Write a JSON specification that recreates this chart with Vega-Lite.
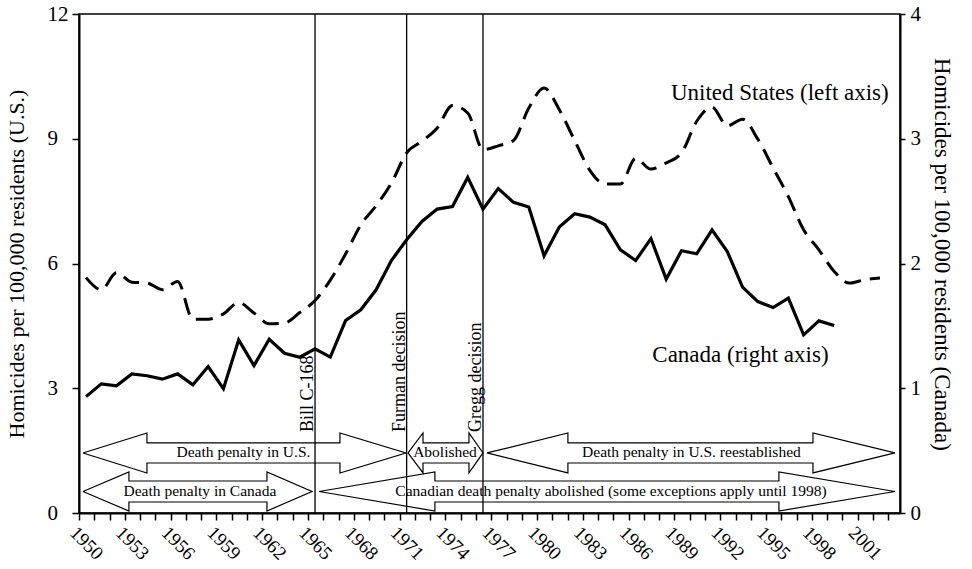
{
  "$schema": "https://vega.github.io/schema/vega-lite/v6.json",
  "width": 821,
  "height": 499,
  "autosize": "none",
  "padding": {"left": 79, "top": 14, "right": 72, "bottom": 56},
  "background": "white",
  "config": {
    "view": {"stroke": "black", "strokeWidth": 1.5},
    "font": "Liberation Serif",
    "axis": {"domainColor": "black", "tickColor": "black", "labelColor": "black", "titleColor": "black", "grid": false, "domainWidth": 2, "tickWidth": 1.5, "labelFont": "Liberation Serif", "titleFont": "Liberation Serif", "titleFontWeight": "normal"}
  },
  "datasets": {
    "series": [
      {"year": 1950, "us": 5.66, "canada": 0.933},
      {"year": 1951, "us": 5.37, "canada": 1.035},
      {"year": 1952, "us": 5.78, "canada": 1.019},
      {"year": 1953, "us": 5.55, "canada": 1.115},
      {"year": 1954, "us": 5.53, "canada": 1.10},
      {"year": 1955, "us": 5.37, "canada": 1.073},
      {"year": 1956, "us": 5.57, "canada": 1.115},
      {"year": 1957, "us": 4.66, "canada": 1.027},
      {"year": 1958, "us": 4.66, "canada": 1.174},
      {"year": 1959, "us": 4.79, "canada": 0.997},
      {"year": 1960, "us": 5.06, "canada": 1.388},
      {"year": 1961, "us": 4.81, "canada": 1.182},
      {"year": 1962, "us": 4.55, "canada": 1.393},
      {"year": 1963, "us": 4.57, "canada": 1.281},
      {"year": 1964, "us": 4.82, "canada": 1.249},
      {"year": 1965, "us": 5.11, "canada": 1.316},
      {"year": 1966, "us": 5.6, "canada": 1.25},
      {"year": 1967, "us": 6.23, "canada": 1.543},
      {"year": 1968, "us": 6.93, "canada": 1.629},
      {"year": 1969, "us": 7.39, "canada": 1.789},
      {"year": 1970, "us": 7.93, "canada": 2.024},
      {"year": 1971, "us": 8.66, "canada": 2.19},
      {"year": 1972, "us": 8.94, "canada": 2.337},
      {"year": 1973, "us": 9.26, "canada": 2.436},
      {"year": 1974, "us": 9.80, "canada": 2.457},
      {"year": 1975, "us": 9.62, "canada": 2.69},
      {"year": 1976, "us": 8.74, "canada": 2.436},
      {"year": 1977, "us": 8.83, "canada": 2.60},
      {"year": 1978, "us": 8.96, "canada": 2.49},
      {"year": 1979, "us": 9.74, "canada": 2.453},
      {"year": 1980, "us": 10.22, "canada": 2.062},
      {"year": 1981, "us": 9.70, "canada": 2.292},
      {"year": 1982, "us": 8.96, "canada": 2.399},
      {"year": 1983, "us": 8.24, "canada": 2.372},
      {"year": 1984, "us": 7.91, "canada": 2.31},
      {"year": 1985, "us": 7.91, "canada": 2.11},
      {"year": 1986, "us": 8.53, "canada": 2.024},
      {"year": 1987, "us": 8.27, "canada": 2.20},
      {"year": 1988, "us": 8.42, "canada": 1.875},
      {"year": 1989, "us": 8.66, "canada": 2.102},
      {"year": 1990, "us": 9.42, "canada": 2.078},
      {"year": 1991, "us": 9.76, "canada": 2.27},
      {"year": 1992, "us": 9.31, "canada": 2.096},
      {"year": 1993, "us": 9.47, "canada": 1.811},
      {"year": 1994, "us": 8.99, "canada": 1.695},
      {"year": 1995, "us": 8.30, "canada": 1.647},
      {"year": 1996, "us": 7.61, "canada": 1.722},
      {"year": 1997, "us": 6.81, "canada": 1.428},
      {"year": 1998, "us": 6.33, "canada": 1.54},
      {"year": 1999, "us": 5.81, "canada": 1.503},
      {"year": 2000, "us": 5.53, "canada": null},
      {"year": 2001, "us": 5.61, "canada": null},
      {"year": 2002, "us": 5.65, "canada": null}
    ],
    "events": [
      {"year": 1965, "label": "Bill C-168", "ty": 1.95},
      {"year": 1971, "label": "Furman decision", "ty": 1.95},
      {"year": 1976, "label": "Gregg decision", "ty": 1.95}
    ],
    "arrows": [
      {"a": "A", "i": 0, "ax": 1950.26, "ay": 1.444},
      {"a": "A", "i": 1, "ax": 1954.45, "ay": 1.925},
      {"a": "A", "i": 2, "ax": 1954.45, "ay": 1.685},
      {"a": "A", "i": 3, "ax": 1967.09, "ay": 1.685},
      {"a": "A", "i": 4, "ax": 1967.09, "ay": 1.925},
      {"a": "A", "i": 5, "ax": 1971.41, "ay": 1.444},
      {"a": "A", "i": 6, "ax": 1967.09, "ay": 0.963},
      {"a": "A", "i": 7, "ax": 1967.09, "ay": 1.203},
      {"a": "A", "i": 8, "ax": 1954.45, "ay": 1.203},
      {"a": "A", "i": 9, "ax": 1954.45, "ay": 0.963},
      {"a": "A", "i": 10, "ax": 1950.26, "ay": 1.444},
      {"a": "B", "i": 0, "ax": 1971.55, "ay": 1.444},
      {"a": "B", "i": 1, "ax": 1972.53, "ay": 1.925},
      {"a": "B", "i": 2, "ax": 1972.53, "ay": 1.685},
      {"a": "B", "i": 3, "ax": 1975.54, "ay": 1.685},
      {"a": "B", "i": 4, "ax": 1975.54, "ay": 1.925},
      {"a": "B", "i": 5, "ax": 1976.46, "ay": 1.444},
      {"a": "B", "i": 6, "ax": 1975.54, "ay": 0.963},
      {"a": "B", "i": 7, "ax": 1975.54, "ay": 1.203},
      {"a": "B", "i": 8, "ax": 1972.53, "ay": 1.203},
      {"a": "B", "i": 9, "ax": 1972.53, "ay": 0.963},
      {"a": "B", "i": 10, "ax": 1971.55, "ay": 1.444},
      {"a": "C", "i": 0, "ax": 1976.72, "ay": 1.444},
      {"a": "C", "i": 1, "ax": 1982.02, "ay": 1.925},
      {"a": "C", "i": 2, "ax": 1982.02, "ay": 1.685},
      {"a": "C", "i": 3, "ax": 1998.07, "ay": 1.685},
      {"a": "C", "i": 4, "ax": 1998.07, "ay": 1.925},
      {"a": "C", "i": 5, "ax": 2003.44, "ay": 1.444},
      {"a": "C", "i": 6, "ax": 1998.07, "ay": 0.963},
      {"a": "C", "i": 7, "ax": 1998.07, "ay": 1.203},
      {"a": "C", "i": 8, "ax": 1982.02, "ay": 1.203},
      {"a": "C", "i": 9, "ax": 1982.02, "ay": 0.963},
      {"a": "C", "i": 10, "ax": 1976.72, "ay": 1.444},
      {"a": "D", "i": 0, "ax": 1950.26, "ay": 0.517},
      {"a": "D", "i": 1, "ax": 1953.27, "ay": 0.987},
      {"a": "D", "i": 2, "ax": 1953.27, "ay": 0.770},
      {"a": "D", "i": 3, "ax": 1962.31, "ay": 0.770},
      {"a": "D", "i": 4, "ax": 1962.31, "ay": 0.987},
      {"a": "D", "i": 5, "ax": 1965.26, "ay": 0.517},
      {"a": "D", "i": 6, "ax": 1962.31, "ay": 0.048},
      {"a": "D", "i": 7, "ax": 1962.31, "ay": 0.265},
      {"a": "D", "i": 8, "ax": 1953.27, "ay": 0.265},
      {"a": "D", "i": 9, "ax": 1953.27, "ay": 0.048},
      {"a": "D", "i": 10, "ax": 1950.26, "ay": 0.517},
      {"a": "E", "i": 0, "ax": 1965.72, "ay": 0.517},
      {"a": "E", "i": 1, "ax": 1973.31, "ay": 0.987},
      {"a": "E", "i": 2, "ax": 1973.31, "ay": 0.770},
      {"a": "E", "i": 3, "ax": 1995.84, "ay": 0.770},
      {"a": "E", "i": 4, "ax": 1995.84, "ay": 0.987},
      {"a": "E", "i": 5, "ax": 2003.44, "ay": 0.517},
      {"a": "E", "i": 6, "ax": 1995.84, "ay": 0.048},
      {"a": "E", "i": 7, "ax": 1995.84, "ay": 0.265},
      {"a": "E", "i": 8, "ax": 1973.31, "ay": 0.265},
      {"a": "E", "i": 9, "ax": 1973.31, "ay": 0.048},
      {"a": "E", "i": 10, "ax": 1965.72, "ay": 0.517}
    ],
    "arrowText": [
      {"label": "Death penalty in U.S.", "tx": 1960.77, "ty": 1.468},
      {"label": "Abolished", "tx": 1973.97, "ty": 1.468},
      {"label": "Death penalty in U.S. reestablished", "tx": 1990.11, "ty": 1.468},
      {"label": "Death penalty in Canada", "tx": 1957.92, "ty": 0.53},
      {"label": "Canadian death penalty abolished (some exceptions apply until 1998)", "tx": 1984.84, "ty": 0.53}
    ],
    "seriesText": [
      {"label": "United States (left axis)", "tx": 1995.9, "ty": 9.94},
      {"label": "Canada (right axis)", "tx": 1993.32, "ty": 3.64}
    ]
  },
  "layer": [
    {
      "data": {"name": "series"},
      "mark": {"type": "line", "strokeDash": [17, 9], "strokeWidth": 3, "color": "black", "interpolate": "monotone", "xOffset": 7},
      "encoding": {
        "x": {"field": "year", "type": "quantitative", "scale": {"domain": [1950, 2003.77], "nice": false, "zero": false},
          "axis": {"values": [1950,1951,1952,1953,1954,1955,1956,1957,1958,1959,1960,1961,1962,1963,1964,1965,1966,1967,1968,1969,1970,1971,1972,1973,1974,1975,1976,1977,1978,1979,1980,1981,1982,1983,1984,1985,1986,1987,1988,1989,1990,1991,1992,1993,1994,1995,1996,1997,1998,1999,2000,2001,2002,2003], "format": "d", "labelExpr": "datum.value % 3 === 0 ? datum.label : ''", "labelAngle": 45, "labelAlign": "left", "labelBaseline": "top", "labelFontSize": 19, "labelPadding": 3, "tickSize": 7, "labelOverlap": false, "labelFlush": false, "title": null}},
        "y": {"field": "us", "type": "quantitative", "scale": {"domain": [0, 12], "nice": false, "zero": true},
          "axis": {"orient": "left", "values": [0, 3, 6, 9, 12], "labelAlign": "left", "labelPadding": 25, "tickSize": 7, "labelFontSize": 21, "title": "Homicides per 100,000 residents (U.S.)", "titleFontSize": 22, "titlePadding": 19}}
      }
    },
    {
      "data": {"name": "series"},
      "mark": {"type": "line", "strokeWidth": 3.2, "color": "black", "xOffset": 7},
      "encoding": {
        "x": {"field": "year", "type": "quantitative", "scale": {"domain": [1950, 2003.77], "nice": false, "zero": false},
          "axis": {"values": [1950,1951,1952,1953,1954,1955,1956,1957,1958,1959,1960,1961,1962,1963,1964,1965,1966,1967,1968,1969,1970,1971,1972,1973,1974,1975,1976,1977,1978,1979,1980,1981,1982,1983,1984,1985,1986,1987,1988,1989,1990,1991,1992,1993,1994,1995,1996,1997,1998,1999,2000,2001,2002,2003], "format": "d", "labelExpr": "datum.value % 3 === 0 ? datum.label : ''", "labelAngle": 45, "labelAlign": "left", "labelBaseline": "top", "labelFontSize": 19, "labelPadding": 3, "tickSize": 7, "labelOverlap": false, "labelFlush": false, "title": null}},
        "y": {"field": "canada", "type": "quantitative", "scale": {"domain": [0, 4], "nice": false, "zero": true},
          "axis": {"orient": "right", "values": [0, 1, 2, 3, 4], "tickSize": 5, "labelPadding": 5, "labelFontSize": 21, "title": "Homicides per 100,000 residents (Canada)", "titleFontSize": 23, "titlePadding": 9, "titleY": 240}}
      }
    },
    {
      "data": {"name": "events"},
      "mark": {"type": "rule", "strokeWidth": 1.3, "color": "black", "xOffset": 7},
      "encoding": {
        "x": {"field": "year", "type": "quantitative", "scale": {"domain": [1950, 2003.77], "nice": false, "zero": false},
          "axis": {"values": [1950,1951,1952,1953,1954,1955,1956,1957,1958,1959,1960,1961,1962,1963,1964,1965,1966,1967,1968,1969,1970,1971,1972,1973,1974,1975,1976,1977,1978,1979,1980,1981,1982,1983,1984,1985,1986,1987,1988,1989,1990,1991,1992,1993,1994,1995,1996,1997,1998,1999,2000,2001,2002,2003], "format": "d", "labelExpr": "datum.value % 3 === 0 ? datum.label : ''", "labelAngle": 45, "labelAlign": "left", "labelBaseline": "top", "labelFontSize": 19, "labelPadding": 3, "tickSize": 7, "labelOverlap": false, "labelFlush": false, "title": null}}
      }
    },
    {
      "data": {"name": "events"},
      "mark": {"type": "text", "angle": 270, "align": "left", "baseline": "alphabetic", "dy": -2, "fontSize": 18, "color": "black", "xOffset": 7},
      "encoding": {
        "x": {"field": "year", "type": "quantitative", "scale": {"domain": [1950, 2003.77], "nice": false, "zero": false},
          "axis": {"values": [1950,1951,1952,1953,1954,1955,1956,1957,1958,1959,1960,1961,1962,1963,1964,1965,1966,1967,1968,1969,1970,1971,1972,1973,1974,1975,1976,1977,1978,1979,1980,1981,1982,1983,1984,1985,1986,1987,1988,1989,1990,1991,1992,1993,1994,1995,1996,1997,1998,1999,2000,2001,2002,2003], "format": "d", "labelExpr": "datum.value % 3 === 0 ? datum.label : ''", "labelAngle": 45, "labelAlign": "left", "labelBaseline": "top", "labelFontSize": 19, "labelPadding": 3, "tickSize": 7, "labelOverlap": false, "labelFlush": false, "title": null}},
        "y": {"field": "ty", "type": "quantitative", "scale": {"domain": [0, 12], "nice": false}, "axis": null},
        "text": {"field": "label"}
      }
    },
    {
      "data": {"name": "arrows"},
      "mark": {"type": "line", "strokeWidth": 1.2, "color": "black", "interpolate": "linear"},
      "encoding": {
        "x": {"field": "ax", "type": "quantitative", "scale": {"domain": [1950, 2003.77], "nice": false, "zero": false},
          "axis": {"values": [1950,1951,1952,1953,1954,1955,1956,1957,1958,1959,1960,1961,1962,1963,1964,1965,1966,1967,1968,1969,1970,1971,1972,1973,1974,1975,1976,1977,1978,1979,1980,1981,1982,1983,1984,1985,1986,1987,1988,1989,1990,1991,1992,1993,1994,1995,1996,1997,1998,1999,2000,2001,2002,2003], "format": "d", "labelExpr": "datum.value % 3 === 0 ? datum.label : ''", "labelAngle": 45, "labelAlign": "left", "labelBaseline": "top", "labelFontSize": 19, "labelPadding": 3, "tickSize": 7, "labelOverlap": false, "labelFlush": false, "title": null}},
        "y": {"field": "ay", "type": "quantitative", "scale": {"domain": [0, 12], "nice": false}, "axis": null},
        "detail": {"field": "a"},
        "order": {"field": "i", "type": "quantitative"}
      }
    },
    {
      "data": {"name": "arrowText"},
      "mark": {"type": "text", "align": "center", "baseline": "middle", "fontSize": 15.5, "color": "black"},
      "encoding": {
        "x": {"field": "tx", "type": "quantitative", "scale": {"domain": [1950, 2003.77], "nice": false, "zero": false},
          "axis": {"values": [1950,1951,1952,1953,1954,1955,1956,1957,1958,1959,1960,1961,1962,1963,1964,1965,1966,1967,1968,1969,1970,1971,1972,1973,1974,1975,1976,1977,1978,1979,1980,1981,1982,1983,1984,1985,1986,1987,1988,1989,1990,1991,1992,1993,1994,1995,1996,1997,1998,1999,2000,2001,2002,2003], "format": "d", "labelExpr": "datum.value % 3 === 0 ? datum.label : ''", "labelAngle": 45, "labelAlign": "left", "labelBaseline": "top", "labelFontSize": 19, "labelPadding": 3, "tickSize": 7, "labelOverlap": false, "labelFlush": false, "title": null}},
        "y": {"field": "ty", "type": "quantitative", "scale": {"domain": [0, 12], "nice": false}, "axis": null},
        "text": {"field": "label"}
      }
    },
    {
      "data": {"name": "seriesText"},
      "mark": {"type": "text", "align": "center", "baseline": "alphabetic", "fontSize": 23, "color": "black"},
      "encoding": {
        "x": {"field": "tx", "type": "quantitative", "scale": {"domain": [1950, 2003.77], "nice": false, "zero": false},
          "axis": {"values": [1950,1951,1952,1953,1954,1955,1956,1957,1958,1959,1960,1961,1962,1963,1964,1965,1966,1967,1968,1969,1970,1971,1972,1973,1974,1975,1976,1977,1978,1979,1980,1981,1982,1983,1984,1985,1986,1987,1988,1989,1990,1991,1992,1993,1994,1995,1996,1997,1998,1999,2000,2001,2002,2003], "format": "d", "labelExpr": "datum.value % 3 === 0 ? datum.label : ''", "labelAngle": 45, "labelAlign": "left", "labelBaseline": "top", "labelFontSize": 19, "labelPadding": 3, "tickSize": 7, "labelOverlap": false, "labelFlush": false, "title": null}},
        "y": {"field": "ty", "type": "quantitative", "scale": {"domain": [0, 12], "nice": false}, "axis": null},
        "text": {"field": "label"}
      }
    }
  ],
  "resolve": {"scale": {"y": "independent"}}
}
